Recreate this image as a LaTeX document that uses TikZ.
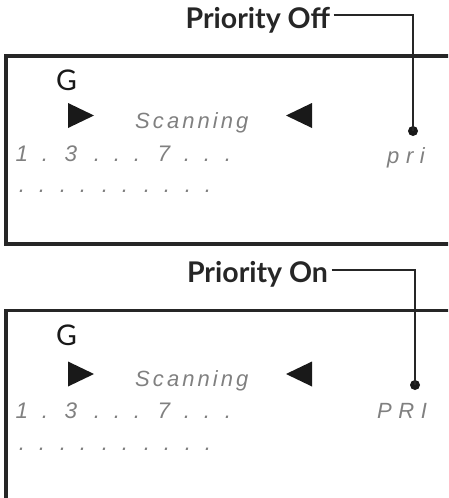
\documentclass[tikz,border=0pt]{standalone}
\usepackage{fontspec}
\setmainfont{Lato}
\newfontfamily\segfont{Liberation Sans}
\definecolor{seggray}{gray}{0.5}
\tikzset{
  panel/.style={line width=3.8pt, draw=black!85},
  lbl/.style={font=\fontsize{28.5}{28.5}\selectfont\bfseries, text=black!85, inner sep=3.5pt, outer sep=0pt},
  gletter/.style={font=\fontsize{28.5}{28.5}\selectfont, inner sep=0pt, anchor=base west, text=black!90},
  seg/.style={font=\segfont\itshape\fontsize{22.5}{22.5}\selectfont, text=seggray, inner sep=0pt, anchor=base},
  segw/.style={font=\segfont\itshape\fontsize{22}{22}\selectfont\addfontfeature{LetterSpace=14}, text=seggray, inner sep=0pt, anchor=base west},
  segp/.style={font=\segfont\itshape\fontsize{22}{22}\selectfont\addfontfeature{LetterSpace=30}, text=seggray, inner sep=0pt, anchor=base west},
  conn/.style={line width=2.4pt, draw=black!85},
  pin/.style={circle, fill=black!90, inner sep=0pt, minimum size=10pt},
  tri/.style={fill=black!90}
}
\begin{document}
\begin{tikzpicture}[x=1pt,y=-1pt]
\useasboundingbox (0,0) rectangle (448,498);
\clip (0,0) rectangle (448,498);

% ---------- panel 1 ----------
\draw[panel] (470,56) -- (6,56) -- (6,244) -- (470,244);
\node[gletter] (g1) at (56,90) {G};
\fill[tri] (68,103) -- (68,128) -- (94,115.5) -- cycle;
\fill[tri] (312,103) -- (312,128) -- (286,115.5) -- cycle;
\node[segw] (scan1) at (135,128) {Scanning};
\foreach \c/\x [count=\i] in {1/22, ./45, 3/71, ./97, ./117, ./137, 7/164, ./187, ./207, ./228}
  \node[seg] (r1a\i) at (\x,161) {\c};
\foreach \x [count=\i] in {22,42,63,83,105,125,147,167,188,208}
  \node[seg] (r1b\i) at (\x,192) {.};
\node[segp] (pri) at (387,163) {pri};

\node[lbl, anchor=base east] (offlbl) at (333.5,28) {Priority Off};
\node[pin] (d1) at (413,131) {};
\coordinate (c1) at (413,15);
\draw[conn] (offlbl.east |- c1) -- (c1) -- (d1.center);

% ---------- panel 2 ----------
\draw[panel] (470,310.5) -- (6,310.5) -- (6,510);
\node[gletter] (g2) at (56,345) {G};
\fill[tri] (68,361.5) -- (68,386.5) -- (94,374) -- cycle;
\fill[tri] (312,361.5) -- (312,386.5) -- (286,374) -- cycle;
\node[segw] (scan2) at (135,386) {Scanning};
\foreach \c/\x [count=\i] in {1/22, ./45, 3/71, ./97, ./117, ./137, 7/164, ./187, ./207, ./228}
  \node[seg] (r2a\i) at (\x,418) {\c};
\foreach \x [count=\i] in {22,42,63,83,105,125,147,167,188,208}
  \node[seg] (r2b\i) at (\x,450) {.};
\node[segp] (PRI) at (377,418) {PRI};

\node[lbl, anchor=base east] (onlbl) at (331.5,282) {Priority On};
\node[pin] (d2) at (415,385) {};
\coordinate (c2) at (415,270);
\draw[conn] (onlbl.east |- c2) -- (c2) -- (d2.center);
\end{tikzpicture}
\end{document}
